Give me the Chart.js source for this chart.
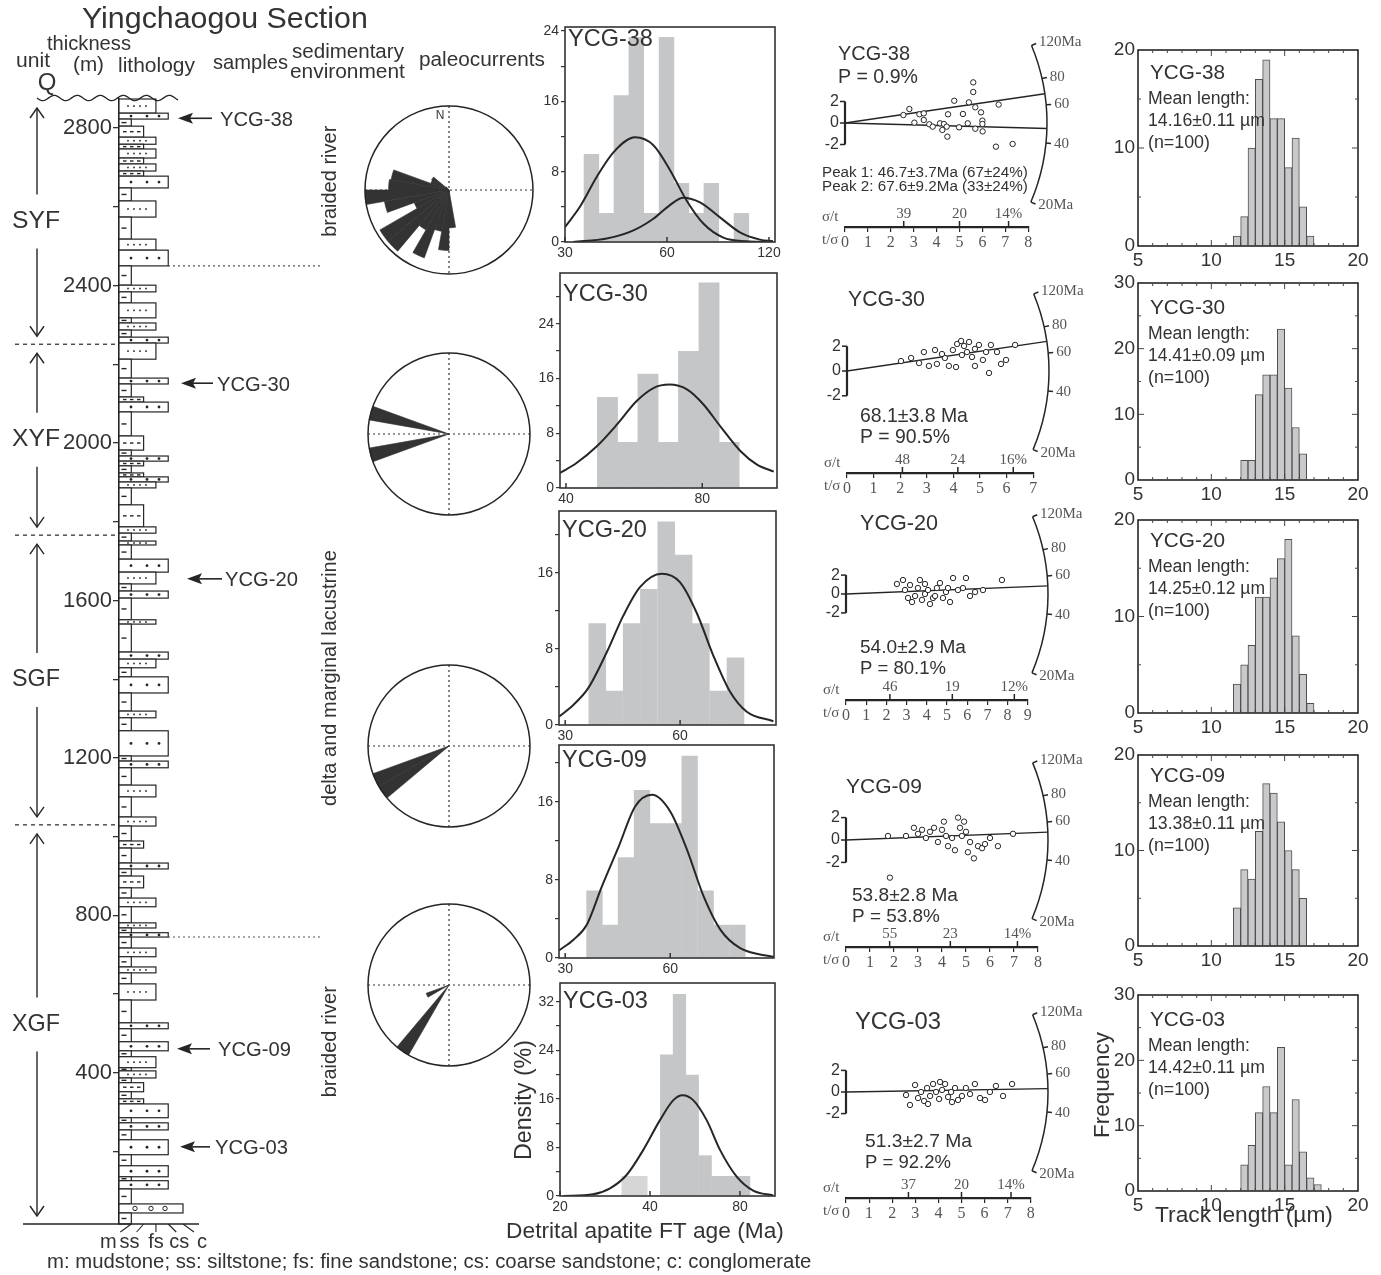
<!DOCTYPE html>
<html>
<head>
<meta charset="utf-8">
<title>Yingchaogou Section</title>
<script src="https://cdn.jsdelivr.net/npm/chart.js@4.4.1/dist/chart.umd.min.js"></script>
<style>
  html, body { margin:0; padding:0; background:#ffffff; }
  #page { position:relative; width:1381px; height:1275px; overflow:hidden; background:#ffffff; }
  #page canvas { position:absolute; }
</style>
</head>
<body>
<div id="page"></div>
<script>
// ======================= DATA =======================
const samples = ['YCG-38', 'YCG-30', 'YCG-20', 'YCG-09', 'YCG-03'];
const sampleThickness = [2825, 2152, 1655, 461, 212];

// stratigraphic column: bed boundaries (m, top to base) and lithology of each bed
const bedBounds = [2874, 2838, 2823, 2805, 2777, 2759, 2747, 2724, 2709, 2691,
  2678, 2648, 2615, 2574, 2518, 2490, 2450, 2401, 2384, 2356,
  2318, 2305, 2287, 2269, 2254, 2213, 2165, 2150, 2117, 2104,
  2079, 2018, 1982, 1967, 1954, 1942, 1924, 1914, 1901, 1886,
  1843, 1787, 1771, 1751, 1741, 1705, 1672, 1642, 1624, 1606,
  1551, 1540, 1469, 1451, 1429, 1406, 1365, 1319, 1302, 1269,
  1205, 1192, 1175, 1131, 1101, 1050, 1027, 989, 971, 933,
  918, 900, 870, 844, 822, 781, 768, 756, 745, 717,
  695, 669, 654, 626, 585, 527, 512, 479, 456, 441,
  413, 405, 387, 375, 352, 334, 321, 286, 273, 255,
  230, 192, 164, 136, 126, 105, 67, 44, 16];
const bedLithology = ['fs','cs','m','ss','fs','ss','fs','ss','fs','ss',
  'cs','m','fs','m','fs','cs','m','fs','m','fs',
  'm','fs','m','cs','fs','m','cs','m','ss','cs',
  'm','ss','m','cs','ss','m','ss','cs','fs','m',
  'ss','fs','m','fs','m','cs','fs','m','cs','m',
  'fs','m','cs','fs','m','cs','m','fs','m','cs',
  'm','cs','m','fs','m','fs','m','ss','m','cs',
  'm','ss','m','fs','m','fs','m','cs','m','fs',
  'm','fs','m','fs','m','cs','m','cs','m','fs',
  'm','fs','m','ss','m','ss','cs','m','cs','m',
  'cs','m','cs','m','cs','m','c','m'];
const grainCodes = ['m', 'ss', 'fs', 'cs', 'c'];
const grainScale = [1, 2, 3, 4, 5.2];
const thicknessTicks = [200, 400, 600, 800, 1000, 1200, 1400, 1600, 1800, 2000, 2200, 2400, 2600, 2800];
const thicknessLabels = [400, 800, 1200, 1600, 2000, 2400, 2800];

const unitNames = ['SYF', 'XYF', 'SGF', 'XGF'];
const unitTop = [2874, 2251, 1766, 1030];
const unitBase = [2251, 1766, 1030, 16];
const envNames = ['braided river', 'delta and marginal lacustrine', 'braided river'];
const envBoundaries = [2450, 745];
const envLabelAt = [2665, 1403, 479];
const legendText = 'm: mudstone; ss: siltstone; fs: fine sandstone; cs: coarse sandstone; c: conglomerate';

// paleocurrent roses: 36 sectors of 10 deg clockwise from N, relative length
const rose38 = [0,0,0,0,0,0,0,0,0,0,0,0,0,0,0,0,0,0.45,0.72,0.5,0.86,0.55,0.95,0.95,0.44,0.78,1.0,0.72,0.70,0.23,0.24,0.05,0,0,0,0];
const rose30 = [0,0,0,0,0,0,0,0,0,0,0,0,0,0,0,0,0,0,0,0,0,0,0,0,0,1.0,0,0,1.0,0,0,0,0,0,0,0];
const rose20 = [0,0,0,0,0,0,0,0,0,0,0,0,0,0,0,0,0,0,0,0,0,0,0,1.0,1.0,0,0,0,0,0,0,0,0,0,0,0];
const rose09 = [0,0,0,0,0,0,0,0,0,0,0,0,0,0,0,0,0,0,0,0,0,1.0,0,0,0.3,0,0,0,0,0,0,0,0,0,0,0];

// detrital apatite FT age histograms (bin centre Ma, density %) and fitted curves
const age38Bins = [35.9, 39.7, 44.0, 48.7, 54.0, 59.8, 66.2, 73.3, 81.1, 89.9, 99.5];
const age38Density = [10.0, 3.3, 16.7, 23.3, 3.3, 23.3, 6.7, 3.3, 6.7, 0, 3.3];
const age38Peak1Age = [30, 33.2, 37.2, 41.7, 48.3, 54.7, 61.2, 68.6, 76.8, 88.0, 103.1, 118];
const age38Peak1Density = [1.7, 4.0, 7.4, 10.2, 11.9, 11.0, 8.2, 4.7, 2.1, 0.5, 0.08, 0.01];
const age38Peak2Age = [31.7, 39.8, 47.6, 54.7, 61.2, 67.0, 75.1, 86.0, 98.5, 112.9, 123.3];
const age38Peak2Density = [0, 0.4, 1.3, 2.65, 4.2, 5.04, 4.5, 2.8, 1.1, 0.27, 0.08];
const age30Bins = [49.4, 54.8, 60.7, 67.3, 74.6, 82.8, 91.7];
const age30Density = [13.3, 6.7, 16.7, 6.7, 20.0, 30.0, 6.7];
const age30CurveAge = [38.8, 42.2, 46.8, 51.8, 57.3, 62.4, 67.7, 74.0, 80.5, 87.7, 97.1, 105.7, 115.1];
const age30CurveDensity = [2.2, 3.65, 6.1, 9.25, 12.7, 14.6, 15.1, 14.4, 12.2, 9.0, 5.4, 3.4, 2.4];
const age20Bins = [36.4, 40.3, 44.8, 49.7, 55.2, 61.3, 68.0, 75.5, 83.8];
const age20Density = [10.7, 3.6, 10.7, 14.3, 21.4, 17.9, 10.7, 3.6, 7.1];
const age20CurveAge = [28.9, 31.5, 34.5, 38.6, 42.6, 47.1, 53.7, 60.0, 66.3, 73.3, 81.1, 89.7, 105.3];
const age20CurveDensity = [0.87, 2.1, 3.9, 7.7, 11.5, 14.5, 15.9, 15.0, 11.8, 7.3, 3.5, 1.4, 0.4];
const age09Bins = [36.4, 40.4, 44.8, 49.8, 55.3, 61.4, 68.2, 75.8, 84.1, 93.5];
const age09Density = [6.9, 3.4, 10.3, 17.2, 13.8, 13.8, 20.7, 6.9, 3.4, 3.4];
const age09CurveAge = [28.8, 31.7, 34.6, 38.2, 42.7, 47.6, 53.2, 60.0, 67.0, 74.8, 83.5, 95.2, 118.7];
const age09CurveDensity = [0.78, 1.87, 3.4, 7.3, 11.4, 15.5, 16.7, 15.0, 11.1, 6.3, 2.9, 1.0, 0.1];
const age03Bins = [33.8, 37.3, 41.2, 45.5, 50.2, 55.4, 61.2, 67.5, 74.5, 82.3];
const age03Density = [3.3, 3.3, 0, 23.3, 33.3, 20.0, 6.7, 3.3, 3.3, 3.3];
const age03CurveAge = [20.5, 25.8, 29.4, 33.4, 38.0, 43.2, 47.9, 51.4, 55.8, 61.9, 68.6, 78.0, 88.6, 103.4];
const age03CurveDensity = [0, 0.27, 1.26, 3.46, 7.6, 12.5, 15.8, 16.6, 15.8, 12.5, 7.6, 3.2, 0.9, 0.1];
const age38Ticks = [30, 60, 120];
const age30Ticks = [40, 80];
const age20Ticks = [30, 60];
const age09Ticks = [30, 60];
const age03Ticks = [20, 40, 80];

// radial plots: precision t/sigma (x) and standardised estimate z (y)
const rp38X = [2.55,2.81,3.03,3.25,3.44,3.44,3.68,3.83,4.15,4.25,4.32,4.44,4.47,4.50,4.77,4.98,5.15,5.36,5.41,5.60,5.60,5.69,5.69,5.94,6.00,6.00,6.01,6.71,6.59,7.32];
const rp38Z = [0.74,1.30,0.03,0.81,0.90,0.28,-0.12,-0.34,-0.03,-0.65,-0.09,-0.34,-1.27,0.81,2.07,-0.40,0.84,-0.03,1.92,2.88,3.78,1.46,-0.53,0.99,0.22,-0.09,-0.78,1.71,-2.20,-1.95];
const rp30X = [2.03,2.41,2.71,2.89,3.08,3.38,3.68,3.83,3.98,4.14,4.29,4.40,4.51,4.59,4.70,4.81,4.96,5.11,5.23,5.34,5.41,5.64,5.79,5.98,6.32,4.10,4.32,4.81,3.57,3.31];
const rp30Z = [0.80,1.05,0.64,1.53,0.41,0.57,1.05,0.41,1.69,2.18,2.42,2.02,1.53,2.34,1.13,1.78,2.10,0.89,1.53,-0.16,2.10,1.53,0.57,0.89,2.10,0.32,1.29,0.41,1.37,1.69];
const rp20X = [2.52,2.82,2.92,3.07,3.17,3.42,3.56,3.66,3.76,3.91,4.06,4.16,4.31,4.50,4.65,4.80,4.95,5.15,5.30,5.54,5.79,5.94,6.14,6.39,6.78,7.72,3.27,3.91,4.41,5.05];
const rp20Z = [1.06,1.48,0.42,-0.42,0.95,-0.21,0.63,1.48,-0.63,0,0.42,-1.06,-0.42,0.63,1.16,-0.42,0.21,-0.85,1.69,0.42,0.63,1.69,-0.21,0.21,0.42,1.48,-0.85,1.06,-0.21,0.63];
const rp09X = [1.75,1.83,2.5,2.83,3.0,3.17,3.33,3.5,3.67,3.83,4.0,4.17,4.25,4.42,4.54,4.67,4.75,4.83,4.92,5.0,5.08,5.17,5.33,5.5,5.67,5.79,6.0,6.33,6.96,4.08];
const rp09Z = [0.36,-3.36,0.36,1.09,0.55,0.91,0.18,0.73,1.09,-0.18,0.91,0.36,-0.55,0.18,-0.91,2.0,1.09,0.36,1.64,0.73,-1.09,-0.18,-1.64,-0.55,-0.73,-0.36,0.18,-0.55,0.55,1.64];
const rp03X = [2.60,2.77,2.99,3.12,3.25,3.38,3.51,3.64,3.77,3.90,4.03,4.16,4.29,4.42,4.55,4.72,4.85,5.02,5.19,5.37,5.58,5.80,6.02,6.23,6.49,6.80,7.19,3.55,4.07,4.59];
const rp03Z = [-0.28,-1.2,0.65,-0.56,0,-0.83,0.37,-0.37,0.74,0,-0.65,0.19,0.74,-0.46,0,0.37,-0.74,-0.37,0.37,-0.19,0.74,-0.56,-0.74,0,0.56,-0.37,0.74,-1.11,0.93,-0.93];
const rpPeaks = [[46.7, 67.6], [68.1], [54.0], [53.8], [51.3]];
const rpRefAge = [49.5, 49.5, 49.5, 49.5, 49.5];
const rpSigmaTicks = [[39, 20, 14], [48, 24, 16], [46, 19, 12], [55, 23, 14], [37, 20, 14]];
const rpAgeText = ['', '68.1±3.8 Ma', '54.0±2.9 Ma', '53.8±2.8 Ma', '51.3±2.7 Ma'];
const rpPText = ['P = 0.9%', 'P = 90.5%', 'P = 80.1%', 'P = 53.8%', 'P = 92.2%'];
const rp38PeakText = ['Peak 1: 46.7±3.7Ma (67±24%)', 'Peak 2: 67.6±9.2Ma (33±24%)'];
const arcAges = [120, 80, 60, 40, 20];
const arcLabels = ['120Ma', '80', '60', '40', '20Ma'];
const zTicks = [2, 0, -2];

// confined track length histograms (bin centre um, count)
const track38Centers = [11.75, 12.25, 12.75, 13.25, 13.75, 14.25, 14.75, 15.25, 15.75, 16.25, 16.75];
const track38Counts = [1, 3, 10, 17, 19, 13, 13, 8, 11, 4, 1];
const track30Centers = [12.25, 12.75, 13.25, 13.75, 14.25, 14.75, 15.25, 15.75, 16.25];
const track30Counts = [3, 3, 13, 16, 16, 23, 14, 8, 4];
const track20Centers = [11.75, 12.25, 12.75, 13.25, 13.75, 14.25, 14.75, 15.25, 15.75, 16.25, 16.75];
const track20Counts = [3, 5, 7, 12, 12, 14, 16, 18, 8, 4, 1];
const track09Centers = [11.75, 12.25, 12.75, 13.25, 13.75, 14.25, 14.75, 15.25, 15.75, 16.25];
const track09Counts = [4, 8, 7, 12, 17, 16, 13, 10, 8, 5];
const track03Centers = [12.25, 12.75, 13.25, 13.75, 14.25, 14.75, 15.25, 15.75, 16.25, 16.75, 17.25];
const track03Counts = [4, 7, 12, 16, 12, 22, 4, 14, 6, 2, 1];
const trackMean = ['14.16±0.11 µm', '14.41±0.09 µm', '14.25±0.12 µm', '13.38±0.11 µm', '14.42±0.11 µm'];
const trackN = [100, 100, 100, 100, 100];
const trackXTicks = [5, 10, 15, 20];

// ======================= LAYOUT / STYLE =======================
const SANS = "'Liberation Sans', Arial, Helvetica, sans-serif";
const SERIF = "'Liberation Serif', 'Times New Roman', serif";
const INK = '#252525';
const TXT = '#333333';
const BAR_GRAY = '#c5c6c8';
const ARC_R = 202;

const AGE_L = [
  {l:565, t:27,  r:775, b:242,  xmin:30,   xmax:125,   ymax:24.45, nameDy:13},
  {l:560, t:273, r:777, b:488,  xmin:38.8, xmax:117,   ymax:31.4,  nameDy:22},
  {l:559, t:511, r:776, b:725,  xmin:28.9, xmax:107,   ymax:22.5,  nameDy:20},
  {l:559, t:745, r:774, b:958,  xmin:28.8, xmax:119,   ymax:21.8,  nameDy:16},
  {l:560, t:983, r:775, b:1196, xmin:20,   xmax:104.8, ymax:35.1,  nameDy:19}
];
const TRACK_L = [
  {l:1138, t:50,  r:1358, b:246,  ymax:20, nameDy:23},
  {l:1138, t:283, r:1358, b:480,  ymax:30, nameDy:25},
  {l:1138, t:520, r:1358, b:713,  ymax:20, nameDy:21},
  {l:1138, t:755, r:1358, b:946,  ymax:20, nameDy:21},
  {l:1138, t:995, r:1358, b:1191, ymax:30, nameDy:25}
];
const RADIAL_L = [
  {ox:845, oy:123,  pxX:22.9, pxZ:10.75, xMax:8, axisY:227},
  {ox:847, oy:371,  pxX:26.6, pxZ:12.4,  xMax:7, axisY:473},
  {ox:846, oy:594,  pxX:20.2, pxZ:9.45,  xMax:9, axisY:700},
  {ox:846, oy:840,  pxX:24.0, pxZ:11.2,  xMax:8, axisY:947},
  {ox:846, oy:1092, pxX:23.1, pxZ:10.8,  xMax:8, axisY:1198}
];
const RADIAL_TXT = [
  [{s:samples[0], x:838, y:55, size:20, w:72}, {s:rpPText[0], x:838, y:78, size:19, w:80},
   {s:rp38PeakText[0], x:822, y:173, size:15, w:206}, {s:rp38PeakText[1], x:822, y:187, size:15, w:206}],
  [{s:samples[1], x:848, y:300, size:20, w:77}, {s:rpAgeText[1], x:860, y:417, size:19, w:108}, {s:rpPText[1], x:860, y:438, size:19, w:90}],
  [{s:samples[2], x:860, y:524, size:20, w:78}, {s:rpAgeText[2], x:860, y:648, size:19, w:106}, {s:rpPText[2], x:860, y:669, size:19, w:86}],
  [{s:samples[3], x:846, y:787, size:20, w:76}, {s:rpAgeText[3], x:852, y:896, size:19, w:106}, {s:rpPText[3], x:852, y:917, size:19, w:88}],
  [{s:samples[4], x:855, y:1022, size:21, w:86}, {s:rpAgeText[4], x:865, y:1142, size:19, w:107}, {s:rpPText[4], x:865, y:1163, size:19, w:86}]
];
const ROSE_L = [
  {cx:449, cy:190, r:84, north:true},
  {cx:449, cy:434, r:81},
  {cx:449, cy:746, r:81},
  {cx:449, cy:985, r:81}
];
const SAMPLE_ARROW = [
  {tip:178, tail:212, text:220},
  {tip:181, tail:213, text:217},
  {tip:187, tail:222, text:225},
  {tip:177, tail:210, text:218},
  {tip:180, tail:210, text:215}
];

Chart.defaults.font.family = SANS;
Chart.defaults.color = TXT;
Chart.defaults.animation = false;
Chart.defaults.responsive = false;
Chart.defaults.maintainAspectRatio = false;
Chart.defaults.plugins.legend.display = false;
Chart.defaults.plugins.tooltip.enabled = false;
Chart.defaults.events = [];

const page = document.getElementById('page');
function makeCanvas(x, y, w, h) {
  const c = document.createElement('canvas');
  c.width = w; c.height = h;
  c.style.left = x + 'px'; c.style.top = y + 'px';
  c.style.width = w + 'px'; c.style.height = h + 'px';
  page.appendChild(c);
  return c;
}
function T(ctx, s, x, y, size, o) {
  o = o || {};
  ctx.save();
  const fam = o.family || SANS;
  ctx.font = size + 'px ' + fam;
  if (o.w) {
    const m = ctx.measureText(s).width;
    if (m > 0) { size = size * o.w / m; ctx.font = size + 'px ' + fam; }
  }
  ctx.fillStyle = o.color || TXT;
  ctx.textAlign = o.align || 'left';
  ctx.textBaseline = 'middle';
  if (o.rot) { ctx.translate(x, y); ctx.rotate(o.rot); ctx.fillText(s, 0, 0); }
  else ctx.fillText(s, x, y);
  ctx.restore();
}
function line(ctx, x1, y1, x2, y2) { ctx.beginPath(); ctx.moveTo(x1, y1); ctx.lineTo(x2, y2); ctx.stroke(); }
function stepTicks(max, step) { const out = []; for (let v = 0; v <= max + 1e-9; v += step) out.push({ value: v }); return out; }

// ======================= STRATIGRAPHIC COLUMN =======================
function drawPattern(ctx, code, x0, yt, yb) {
  const h = yb - yt, yc = (yt + yb) / 2;
  ctx.fillStyle = INK; ctx.strokeStyle = INK;
  if (code === 'm') { if (h > 3) ctx.fillRect(x0 + 2.5, yc - 0.7, 5, 1.4); }
  else if (code === 'ss') { [4, 11, 18].forEach(d => ctx.fillRect(x0 + d, yc - 0.7, 3.5, 1.4)); }
  else if (code === 'fs') { [9, 15, 21, 27].forEach(d => ctx.fillRect(x0 + d - 0.8, yc - 0.8, 1.6, 1.6)); }
  else if (code === 'cs') { [12, 28, 40].forEach(d => { ctx.beginPath(); ctx.arc(x0 + d, yc, 1.4, 0, 2 * Math.PI); ctx.fill(); }); }
  else if (code === 'c') { ctx.lineWidth = 1; [16, 32, 46].forEach(d => { ctx.beginPath(); ctx.arc(x0 + d, yc, 2.2, 0, 2 * Math.PI); ctx.stroke(); }); }
}
function vArrow(ctx, x, y0, y1) {
  line(ctx, x, y0, x, y1);
  const d = y1 > y0 ? -1 : 1;
  ctx.beginPath(); ctx.moveTo(x - 7, y1 + d * 10); ctx.lineTo(x, y1); ctx.lineTo(x + 7, y1 + d * 10); ctx.stroke();
}
function hArrow(ctx, tip, tail, y) {
  line(ctx, tail, y, tip + 8, y);
  ctx.beginPath(); ctx.moveTo(tip, y); ctx.lineTo(tip + 15, y - 5.5); ctx.lineTo(tip + 12, y); ctx.lineTo(tip + 15, y + 5.5); ctx.closePath(); ctx.fill();
}
const lithoPlugin = {
  id: 'litho',
  afterDraw(chart) {
    const ctx = chart.ctx, xs = chart.scales.x, ys = chart.scales.y;
    const X = v => xs.getPixelForValue(v), Y = v => ys.getPixelForValue(v);
    const x0 = X(0);
    ctx.save();
    for (let i = 0; i < bedLithology.length; i++) {
      const code = bedLithology[i];
      const yt = Y(bedBounds[i]), yb = Y(bedBounds[i + 1]);
      const x1 = X(grainScale[grainCodes.indexOf(code)]);
      ctx.fillStyle = '#fff'; ctx.fillRect(x0, yt, x1 - x0, yb - yt);
      ctx.lineWidth = 1.2; ctx.strokeStyle = INK;
      ctx.strokeRect(x0, yt, x1 - x0, yb - yt);
      drawPattern(ctx, code, x0, yt, yb);
    }
    const base = Y(bedBounds[bedBounds.length - 1]);
    ctx.strokeStyle = INK; ctx.lineWidth = 1.6;
    line(ctx, 23, base, X(6.5), base);
    const lblDx = [-23, -14, 0, 11, 19], slantDx = [-11, -7, 0, 8, 11];
    ctx.lineWidth = 1.1;
    grainCodes.forEach((g, k) => {
      const px = X(grainScale[k]);
      line(ctx, px, base, px + slantDx[k], base + 8);
      T(ctx, g, px + lblDx[k], base + 18, 20, {align: 'center'});
    });
    const top = Y(bedBounds[0]);
    ctx.lineWidth = 1.3; ctx.beginPath();
    for (let x = 37; x <= 178; x++) {
      const yy = top - 1 + 2.6 * Math.sin((x - 37) / 23 * 2 * Math.PI);
      if (x === 37) ctx.moveTo(x, yy); else ctx.lineTo(x, yy);
    }
    ctx.stroke();
    T(ctx, 'Q', 47, 83, 24, {align: 'center'});
    ctx.lineWidth = 1.2; ctx.strokeStyle = INK;
    ctx.setLineDash([4, 4]);
    unitTop.slice(1).forEach(v => line(ctx, 15, Y(v), x0, Y(v)));
    ctx.setLineDash([]);
    unitNames.forEach((n, k) => {
      const yt = Y(unitTop[k]), yb = Y(unitBase[k]), yc = (yt + yb) / 2;
      T(ctx, n, 36, yc, 25, {align: 'center', w: 48});
      ctx.lineWidth = 1.4;
      vArrow(ctx, 37, yc - 27, yt + 9);
      vArrow(ctx, 37, yc + 27, yb - 8);
    });
    ctx.strokeStyle = '#555'; ctx.lineWidth = 1.1; ctx.setLineDash([2, 3]);
    envBoundaries.forEach(v => line(ctx, 168, Y(v), 320, Y(v)));
    ctx.setLineDash([]);
    envNames.forEach((n, k) => T(ctx, n, 330, Y(envLabelAt[k]), 20, {align: 'center', rot: -Math.PI / 2}));
    ctx.fillStyle = INK; ctx.strokeStyle = INK; ctx.lineWidth = 1.6;
    samples.forEach((s, k) => {
      const y = Y(sampleThickness[k]), A = SAMPLE_ARROW[k];
      hArrow(ctx, A.tip, A.tail, y);
      T(ctx, s, A.text, y + 2, 18, {w: 73});
    });
    T(ctx, 'Yingchaogou Section', 82, 20, 29, {w: 286});
    T(ctx, 'unit', 16, 61, 20, {w: 34});
    T(ctx, 'thickness', 47, 44, 20, {w: 84});
    T(ctx, '(m)', 73, 65, 20, {w: 31});
    T(ctx, 'lithology', 118, 66, 20, {w: 77});
    T(ctx, 'samples', 213, 63, 20, {w: 75});
    T(ctx, 'sedimentary', 292, 52, 20, {w: 112});
    T(ctx, 'environment', 290, 72, 20, {w: 115});
    T(ctx, 'paleocurrents', 419, 60, 20, {w: 126});
    T(ctx, legendText, 47, 1262, 19, {w: 765});
    ctx.restore();
  }
};
new Chart(makeCanvas(0, 0, 830, 1275), {
  type: 'scatter',
  data: { datasets: [] },
  options: {
    layout: { padding: { left: 49, right: 631, top: 99, bottom: 51 } },
    scales: {
      x: { type: 'linear', display: false, min: 0, max: 6.5 },
      y: { type: 'linear', position: 'left', min: bedBounds[bedBounds.length - 1], max: bedBounds[0],
        afterFit: s => { s.width = 70; },
        afterBuildTicks: s => { s.ticks = thicknessTicks.map(v => ({ value: v })); },
        ticks: { callback: v => (thicknessLabels.includes(v) ? String(v) : ''), font: { size: 22 }, color: TXT, padding: 1, autoSkip: false },
        grid: { drawOnChartArea: false, tickLength: 6, color: '#333', lineWidth: 1.3 },
        border: { display: true, color: INK, width: 1.5 } }
    }
  },
  plugins: [lithoPlugin]
});

// ======================= PALEOCURRENT ROSES =======================
function buildRose(k, vals) {
  const L = ROSE_L[k], pad = 8;
  const bx = L.cx - L.r - pad, by = L.cy - L.r - pad, sz = 2 * L.r + 2 * pad;
  new Chart(makeCanvas(bx, by, sz, sz), {
    type: 'polarArea',
    data: { labels: vals.map((v, j) => (j * 10) + '°'), datasets: [{ data: vals, backgroundColor: '#333', borderColor: '#333', borderWidth: 0.6 }] },
    options: {
      layout: { padding: pad },
      scales: { r: { min: 0, max: 1, ticks: { display: false }, grid: { display: false }, angleLines: { display: false }, pointLabels: { display: false } } }
    },
    plugins: [{
      id: 'rose' + k,
      beforeDatasetsDraw(c) {
        const r = c.scales.r, ctx = c.ctx, cx = r.xCenter, cy = r.yCenter, R = r.drawingArea;
        ctx.save(); ctx.strokeStyle = '#333'; ctx.lineWidth = 1.2; ctx.setLineDash([2, 3]);
        line(ctx, cx, cy - R, cx, cy + R); line(ctx, cx - R, cy, cx + R, cy);
        ctx.restore();
      },
      afterDatasetsDraw(c) {
        const r = c.scales.r, ctx = c.ctx, cx = r.xCenter, cy = r.yCenter, R = r.drawingArea;
        ctx.save(); ctx.strokeStyle = INK; ctx.lineWidth = 1.5;
        ctx.beginPath(); ctx.arc(cx, cy, R, 0, 2 * Math.PI); ctx.stroke();
        if (L.north) T(ctx, 'N', cx - 9, cy - 74, 12, {align: 'center'});
        ctx.restore();
      }
    }]
  });
}
buildRose(0, rose38); buildRose(1, rose30); buildRose(2, rose20); buildRose(3, rose09);

// ======================= AGE HISTOGRAMS =======================
function buildAgeHist(k, bins, dens, colors, curves, ticks) {
  const L = AGE_L[k];
  const bx = 500, by = L.t - 22, bw = 300, bh = (L.b - by) + (k === 4 ? 60 : 32);
  const yW = 24, xH = 18;
  const datasets = [{ type: 'bar', data: bins.map((c, j) => ({ x: c, y: dens[j] })), backgroundColor: colors,
    borderWidth: 0, barPercentage: 1.04, categoryPercentage: 1, order: 2 }];
  curves.forEach(cu => datasets.push({ type: 'line', data: cu[0].map((a, j) => ({ x: a, y: cu[1][j] })),
    borderColor: '#262626', borderWidth: 2, pointRadius: 0, fill: false, cubicInterpolationMode: 'monotone', order: 1 }));
  new Chart(makeCanvas(bx, by, bw, bh), {
    type: 'bar',
    data: { datasets },
    options: {
      layout: { padding: { left: L.l - bx - yW, right: bx + bw - L.r, top: L.t - by, bottom: by + bh - L.b - xH } },
      scales: {
        x: { type: 'logarithmic', min: L.xmin, max: L.xmax, offset: false,
          afterFit: s => { s.height = xH; },
          afterBuildTicks: s => { s.ticks = ticks.map(v => ({ value: v })); },
          ticks: { callback: v => String(v), font: { size: 14 }, color: TXT, padding: 3, autoSkip: false, maxRotation: 0, minRotation: 0 },
          grid: { display: true, drawOnChartArea: false, drawTicks: false, offset: false },
          border: { display: false } },
        y: { type: 'linear', min: 0, max: L.ymax,
          afterFit: s => { s.width = yW; },
          afterBuildTicks: s => { s.ticks = stepTicks(L.ymax, 4); },
          ticks: { callback: v => (v % 8 === 0 ? String(v) : ''), font: { size: 14 }, color: TXT, padding: 2, autoSkip: false },
          grid: { drawOnChartArea: false, tickLength: 4, color: '#333', lineWidth: 1.2 },
          border: { display: false } }
      }
    },
    plugins: [{
      id: 'age' + k,
      afterDraw(c) {
        const a = c.chartArea, ctx = c.ctx, xs = c.scales.x;
        ctx.save(); ctx.strokeStyle = '#333'; ctx.lineWidth = 1.6;
        ctx.strokeRect(a.left, a.top, a.right - a.left, a.bottom - a.top);
        ctx.lineWidth = 1.5;
        xs.ticks.forEach(t => { const px = xs.getPixelForValue(t.value); line(ctx, px, a.bottom, px, a.bottom - 5); });
        T(ctx, samples[k], a.left + 3, a.top + L.nameDy, 22, {w: 85});
        if (k === 4) {
          T(ctx, 'Density (%)', 525 - bx, 1100 - by, 21, {align: 'center', rot: -Math.PI / 2, w: 120});
          T(ctx, 'Detrital apatite FT age (Ma)', 645 - bx, 1232 - by, 22, {align: 'center', w: 278});
        }
        ctx.restore();
      }
    }]
  });
}
const grayBars = n => new Array(n).fill(BAR_GRAY);
buildAgeHist(0, age38Bins, age38Density, grayBars(age38Bins.length), [[age38Peak1Age, age38Peak1Density], [age38Peak2Age, age38Peak2Density]], age38Ticks);
buildAgeHist(1, age30Bins, age30Density, grayBars(age30Bins.length), [[age30CurveAge, age30CurveDensity]], age30Ticks);
buildAgeHist(2, age20Bins, age20Density, grayBars(age20Bins.length), [[age20CurveAge, age20CurveDensity]], age20Ticks);
buildAgeHist(3, age09Bins, age09Density, grayBars(age09Bins.length), [[age09CurveAge, age09CurveDensity]], age09Ticks);
buildAgeHist(4, age03Bins, age03Density, ['#d6d6d6', '#d6d6d6'].concat(grayBars(age03Bins.length - 2)), [[age03CurveAge, age03CurveDensity]], age03Ticks);

// ======================= RADIAL PLOTS =======================
function buildRadial(k, xs0, zs0) {
  const L = RADIAL_L[k];
  const aL = L.ox, aR = L.ox + L.xMax * L.pxX, aT = L.oy - 92, aB = L.axisY;
  const bx = 800, by = aT - 14, bw = 300, bh = (aB - by) + 30;
  const xH = 22;
  const peaks = rpPeaks[k], ref = rpRefAge[k], sig = rpSigmaTicks[k];
  new Chart(makeCanvas(bx, by, bw, bh), {
    type: 'scatter',
    data: { datasets: [{ data: xs0.map((x, j) => ({ x: x, y: zs0[j] })), pointRadius: 2.7, pointBorderWidth: 1,
      pointBorderColor: INK, pointBackgroundColor: '#fff', borderColor: INK, backgroundColor: '#fff' }] },
    options: {
      layout: { padding: { left: aL - bx, right: bx + bw - aR, top: aT - by, bottom: by + bh - aB - xH } },
      scales: {
        x: { type: 'linear', min: 0, max: L.xMax,
          afterFit: s => { s.height = xH; },
          ticks: { stepSize: 1, font: { family: SERIF, size: 16 }, color: '#555', padding: 1, autoSkip: false },
          grid: { drawOnChartArea: false, tickLength: 5, color: INK, lineWidth: 1.2 },
          border: { display: true, color: INK, width: 2.2 } },
        y: { type: 'linear', display: false, min: -(aB - L.oy) / L.pxZ, max: (L.oy - aT) / L.pxZ }
      }
    },
    plugins: [{
      id: 'radial' + k,
      beforeDatasetsDraw(c) {
        const ctx = c.ctx, xs = c.scales.x, ys = c.scales.y;
        const ox = xs.getPixelForValue(0), oy = ys.getPixelForValue(0), ux = xs.getPixelForValue(1) - ox;
        ctx.save(); ctx.strokeStyle = INK; ctx.lineWidth = 1.3;
        peaks.forEach(p => {
          const dy = ys.getPixelForValue(Math.log(p / ref)) - oy, len = Math.hypot(ux, dy);
          line(ctx, ox, oy, ox + ARC_R * ux / len, oy + ARC_R * dy / len);
        });
        ctx.restore();
      },
      afterDatasetsDraw(c) {
        const ctx = c.ctx, xs = c.scales.x, ys = c.scales.y, a = c.chartArea;
        const ox = xs.getPixelForValue(0), oy = ys.getPixelForValue(0), ux = xs.getPixelForValue(1) - ox;
        const ang = age => Math.atan2(ys.getPixelForValue(Math.log(age / ref)) - oy, ux);
        ctx.save();
        ctx.strokeStyle = INK; ctx.lineWidth = 1.5;
        ctx.beginPath(); ctx.arc(ox, oy, ARC_R, ang(arcAges[0]), ang(arcAges[arcAges.length - 1]), false); ctx.stroke();
        arcAges.forEach((t, j) => {
          const th = ang(t), cs = Math.cos(th), sn = Math.sin(th);
          line(ctx, ox + ARC_R * cs, oy + ARC_R * sn, ox + (ARC_R + 5) * cs, oy + (ARC_R + 5) * sn);
          T(ctx, arcLabels[j], ox + (ARC_R + 8) * cs, oy + (ARC_R + 8) * sn, 15, {family: SERIF, color: '#555'});
        });
        ctx.lineWidth = 2.2;
        line(ctx, ox, ys.getPixelForValue(2), ox, ys.getPixelForValue(-2));
        ctx.lineWidth = 1.5;
        zTicks.forEach(v => {
          const py = ys.getPixelForValue(v);
          line(ctx, ox - 5, py, ox, py);
          T(ctx, String(v), ox - 6, py, 16, {align: 'right'});
        });
        const yb = a.bottom;
        sig.forEach((p, j) => {
          const px = xs.getPixelForValue(100 / p);
          line(ctx, px, yb, px, yb - 6);
          T(ctx, j === sig.length - 1 ? p + '%' : String(p), px, yb - 13, 15, {family: SERIF, color: '#555', align: 'center'});
        });
        T(ctx, 'σ/t', ox - 23, yb - 10, 15, {family: SERIF, color: '#555'});
        T(ctx, 't/σ', ox - 23, yb + 13, 15, {family: SERIF, color: '#555'});
        RADIAL_TXT[k].forEach(o => T(ctx, o.s, o.x - bx, o.y - by, o.size, {w: o.w}));
        ctx.restore();
      }
    }]
  });
}
buildRadial(0, rp38X, rp38Z);
buildRadial(1, rp30X, rp30Z);
buildRadial(2, rp20X, rp20Z);
buildRadial(3, rp09X, rp09Z);
buildRadial(4, rp03X, rp03Z);

// ======================= TRACK LENGTH HISTOGRAMS =======================
function buildTrack(k, centers, counts) {
  const L = TRACK_L[k];
  const bx = 1090, by = L.t - 22, bw = 291, bh = (L.b - by) + (k === 4 ? 50 : 36);
  const yW = 28, xH = 24;
  new Chart(makeCanvas(bx, by, bw, bh), {
    type: 'bar',
    data: { datasets: [{ data: centers.map((c, j) => ({ x: c, y: counts[j] })), backgroundColor: '#c9c9cb',
      borderColor: '#505050', borderWidth: 1, barPercentage: 1, categoryPercentage: 1 }] },
    options: {
      layout: { padding: { left: L.l - bx - yW, right: bx + bw - L.r, top: L.t - by, bottom: by + bh - L.b - xH } },
      scales: {
        x: { type: 'linear', min: 5, max: 20, offset: false,
          afterFit: s => { s.height = xH; },
          afterBuildTicks: s => { s.ticks = trackXTicks.map(v => ({ value: v })); },
          ticks: { font: { size: 19 }, color: TXT, padding: 3, autoSkip: false, maxRotation: 0 },
          grid: { display: true, drawOnChartArea: false, drawTicks: false, offset: false },
          border: { display: false } },
        y: { type: 'linear', min: 0, max: L.ymax,
          afterFit: s => { s.width = yW; },
          afterBuildTicks: s => { s.ticks = stepTicks(L.ymax, 10); },
          ticks: { font: { size: 19 }, color: TXT, padding: 3, autoSkip: false },
          grid: { display: true, drawOnChartArea: false, drawTicks: false },
          border: { display: false } }
      }
    },
    plugins: [{
      id: 'track' + k,
      afterDraw(c) {
        const a = c.chartArea, ctx = c.ctx, xs = c.scales.x, ys = c.scales.y;
        ctx.save(); ctx.strokeStyle = INK; ctx.lineWidth = 1.6;
        ctx.strokeRect(a.left, a.top, a.right - a.left, a.bottom - a.top);
        ctx.lineWidth = 1; ctx.strokeStyle = '#444';
        for (let v = 6; v < 20; v++) {
          const px = xs.getPixelForValue(v), len = v % 5 === 0 ? 6 : 3;
          line(ctx, px, a.bottom, px, a.bottom - len); line(ctx, px, a.top, px, a.top + len);
        }
        for (let v = 5; v < L.ymax; v += 5) {
          const py = ys.getPixelForValue(v), len = v % 10 === 0 ? 6 : 3;
          line(ctx, a.left, py, a.left + len, py); line(ctx, a.right, py, a.right - len, py);
        }
        T(ctx, samples[k], a.left + 12, a.top + L.nameDy, 20, {w: 75});
        T(ctx, 'Mean length:', a.left + 10, a.top + L.nameDy + 26, 17, {w: 102});
        T(ctx, trackMean[k], a.left + 10, a.top + L.nameDy + 48, 17, {w: 117});
        T(ctx, '(n=' + trackN[k] + ')', a.left + 10, a.top + L.nameDy + 70, 17, {w: 62});
        if (k === 4) {
          T(ctx, 'Frequency', 1103 - bx, 1085 - by, 22, {align: 'center', rot: -Math.PI / 2, w: 106});
          T(ctx, 'Track length (µm)', 1244 - bx, 1216 - by, 21, {align: 'center', w: 178});
        }
        ctx.restore();
      }
    }]
  });
}
buildTrack(0, track38Centers, track38Counts);
buildTrack(1, track30Centers, track30Counts);
buildTrack(2, track20Centers, track20Counts);
buildTrack(3, track09Centers, track09Counts);
buildTrack(4, track03Centers, track03Counts);
</script>
</body>
</html>
